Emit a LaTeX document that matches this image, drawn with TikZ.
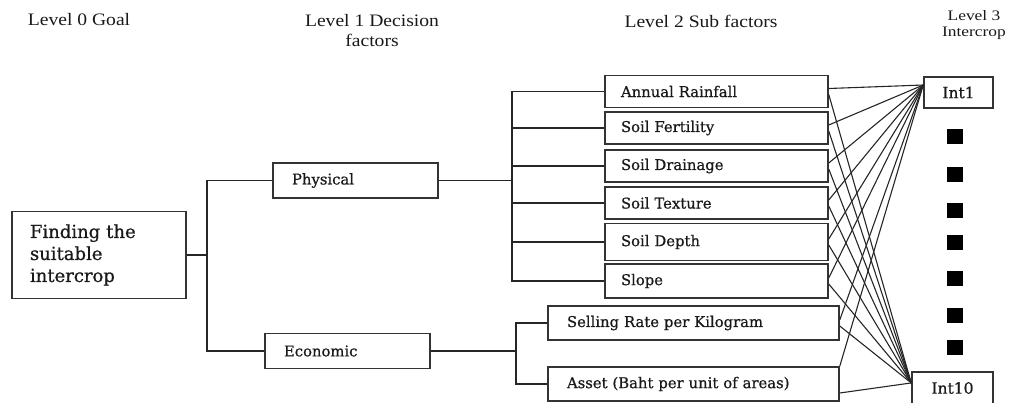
\documentclass[tikz,border=0pt]{standalone}
\usepackage{fontspec}
\setmainfont{Liberation Serif}
\newfontfamily\bxfont[FakeBold=0.7]{DejaVu Serif}
\usetikzlibrary{calc}
\newcommand\hstr[1]{\scalebox{1.12}[1]{#1}}
\begin{document}
\begin{tikzpicture}[x=1pt,y=-1pt,
  hdr/.style={inner sep=0pt, align=center, text=black!90, font=\fontsize{17.5}{20}\selectfont},
  bx/.style={draw=black!80, line width=1.5pt, rectangle, inner ysep=0pt, text=black!90, font=\bxfont\fontsize{14.8}{17}\selectfont, align=left},
  sub/.style={bx, minimum height=32pt, text width=191pt, inner xsep=16pt},
  esub/.style={bx, minimum height=34pt, text width=253pt, inner xsep=19pt},
  lvl/.style={bx, minimum width=165pt, minimum height=35pt, text width=127pt, inner xsep=19pt},
  intb/.style={bx, inner xsep=0pt, font=\bxfont\fontsize{15.5}{17}\selectfont},
  ln/.style={draw=black!85, line width=1.3pt},
  fan/.style={draw=black!85, line width=1.1pt},
  sq/.style={fill=black, minimum width=16pt, minimum height=15pt, inner sep=0pt}]
\useasboundingbox (0,0) rectangle (1010,402);
\clip (0,0) rectangle (1010,402);
% headers
\node[hdr] (h0) at (79,20) {\hstr{Level 0 Goal}};
\node[hdr] (h1) at (372,31) {\hstr{Level 1 Decision}\\\hstr{factors}};
\node[hdr] (h2) at (701,21) {\hstr{Level 2 Sub factors}};
\node[hdr, font=\fontsize{14.5}{15.5}\selectfont] (h3) at (974,25) {\scalebox{1.2}[1]{Level 3}\\\scalebox{1.2}[1]{Intercrop}};
% goal
\node[bx, minimum width=174pt, minimum height=87pt, text width=138pt, inner xsep=18pt, font=\bxfont\fontsize{18}{22}\selectfont] (goal) at (99,255) {Finding the\\suitable\\intercrop};
% level 1
\node[lvl] (phys) at (355.5,180.5) {Physical};
\node[lvl] (econ) at (347.5,351) {Economic};
% level 2
\node[sub] (ar) at (716.5,91.5) {Annual Rainfall};
\node[sub] (sf) at (716.5,128) {Soil Fertility};
\node[sub] (sd) at (716.5,166) {Soil Drainage};
\node[sub] (st) at (716.5,203) {Soil Texture};
\node[sub, minimum height=37pt] (sdp) at (716.5,242) {Soil Depth};
\node[sub, minimum height=34pt] (sl) at (716.5,281) {Slope};
\node[esub] (sr) at (693.5,323) {Selling Rate per Kilogram};
\node[esub] (as) at (693.5,384) {Asset (Baht per unit of areas)};
% level 3
\node[intb, minimum width=69pt, minimum height=31pt] (i1) at (958.5,92.5) {Int1};
\node[intb, minimum width=81pt, minimum height=32pt] (i10) at (952.5,388) {Int10};
\foreach \k/\yy in {1/136,2/174,3/210,4/242,5/278,6/315,7/347}
  \node[sq] (d\k) at (955,\yy) {};
% buses
\coordinate (b0) at (207,0);
\coordinate (b1) at (512,0);
\coordinate (b2) at (516,0);
\draw[ln] (goal.east) -- (goal.east -| b0);
\draw[ln] (phys.west) -- (phys.west -| b0) -- (econ.west -| b0) -- (econ.west);
\draw[ln] (phys.east) -- (phys.east -| b1);
\draw[ln] (ar.west) -- (ar.west -| b1) -- (sl.west -| b1) -- (sl.west);
\foreach \n in {sf,sd,st,sdp} \draw[ln] (\n.west) -- (\n.west -| b1);
\draw[ln] (econ.east) -- (econ.east -| b2);
\draw[ln] (sr.west) -- (sr.west -| b2) -- (as.west -| b2) -- (as.west);
% fan to intercrops
\foreach \n in {ar,sf,sd,st,sdp,sl,sr} {
  \draw[fan] ([yshift=3pt]\n.east) -- (i1.168);
  \draw[fan] ([yshift=-3pt]\n.east) -- (i10.173);
}
\draw[fan] (as.north east) -- (i1.168);
\draw[fan] ([yshift=-9pt]as.east) -- (i10.173);
\end{tikzpicture}
\end{document}
